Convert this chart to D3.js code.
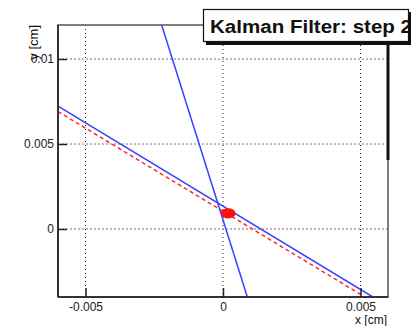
<!DOCTYPE html>
<html>
<head>
<meta charset="utf-8">
<script src="https://cdn.jsdelivr.net/npm/d3@7"></script>
<style>
  body { margin: 0; background: #fff; }
  svg { display: block; font-family: "Liberation Sans", Arial, sans-serif; }
</style>
</head>
<body>
<svg id="chart"></svg>
<script>
// chart values
const xTicks = [-0.005, 0, 0.005];
const yTicks = [0, 0.005, 0.01];
const xTickLabels = ['-0.005', '0', '0.005'];
const yTickLabels = ['0', '0.005', '0.01'];

// track lines: two end points each (x, y in cm)
const steepX = [-0.00223, 0.000884];
const steepY = [0.012, -0.004];
const shallowX = [-0.006, 0.00545];
const shallowY = [0.00723, -0.004];
const fitX = [-0.006, 0.00516];
const fitY = [0.00691, -0.004];

// hit position with its error ellipse
const hitX = [0.00019];
const hitY = [0.00092];
const hitRx = [0.00027];
const hitRy = [0.0003];

const w = 419, h = 326;
const padL = 58, padR = 388, padT = 25, padB = 297;

const svg = d3.select('#chart').attr('width', w).attr('height', h);

const x = d3.scaleLinear().domain([-0.006, 0.006]).range([padL, padR]);
const y = d3.scaleLinear().domain([-0.004, 0.012]).range([padB, padT]);

svg.append('clipPath').attr('id', 'clip')
  .append('rect').attr('x', padL).attr('y', padT)
  .attr('width', padR - padL).attr('height', padB - padT);

// grid
svg.selectAll('.vgrid').data(xTicks).enter().append('line')
  .attr('x1', d => x(d)).attr('x2', d => x(d))
  .attr('y1', padT).attr('y2', padB)
  .attr('stroke', '#222').attr('stroke-width', 1)
  .attr('stroke-dasharray', '1,3');
svg.selectAll('.hgrid').data(yTicks).enter().append('line')
  .attr('x1', padL).attr('x2', padR)
  .attr('y1', d => y(d)).attr('y2', d => y(d))
  .attr('stroke', '#777').attr('stroke-width', 1)
  .attr('stroke-dasharray', '2,2');

const plot = svg.append('g').attr('clip-path', 'url(#clip)');
const toPts = (xs, ys) => xs.map((v, i) => [x(v), y(ys[i])]);
const line = d3.line();

plot.append('path').attr('d', line(toPts(fitX, fitY)))
  .attr('fill', 'none').attr('stroke', '#ff2a2a').attr('stroke-width', 1.5)
  .attr('stroke-dasharray', '4,3');
plot.append('path').attr('d', line(toPts(shallowX, shallowY)))
  .attr('fill', 'none').attr('stroke', '#3344ff').attr('stroke-width', 1.5);
plot.append('path').attr('d', line(toPts(steepX, steepY)))
  .attr('fill', 'none').attr('stroke', '#3344ff').attr('stroke-width', 1.5);

plot.selectAll('.hit').data(hitX).enter().append('ellipse')
  .attr('cx', d => x(d)).attr('cy', (d, i) => y(hitY[i]))
  .attr('rx', (d, i) => x(hitRx[i]) - x(0))
  .attr('ry', (d, i) => y(0) - y(hitRy[i]))
  .attr('fill', '#ff1010');

// frame
svg.append('rect').attr('x', padL).attr('y', padT)
  .attr('width', padR - padL).attr('height', padB - padT)
  .attr('fill', 'none').attr('stroke', '#555').attr('stroke-width', 1.5);
svg.append('line').attr('x1', padL).attr('x2', padL).attr('y1', padT).attr('y2', padB)
  .attr('stroke', '#333').attr('stroke-width', 2);
svg.append('line').attr('x1', padL).attr('x2', padR).attr('y1', padB).attr('y2', padB)
  .attr('stroke', '#333').attr('stroke-width', 2);

// axes (ticks inside the frame)
const xAxis = d3.axisTop(x).tickValues(xTicks).tickSize(9)
  .tickFormat((d, i) => xTickLabels[i]);
const gx = svg.append('g').attr('transform', `translate(0,${padB})`).call(xAxis);
gx.select('.domain').remove();
gx.selectAll('line').attr('stroke', '#222').attr('stroke-width', 1.5);
gx.selectAll('text').attr('y', 5).attr('dy', '0.71em')
  .attr('font-size', 12).attr('fill', '#222');

const yAxis = d3.axisRight(y).tickValues(yTicks).tickSize(9)
  .tickFormat((d, i) => yTickLabels[i]);
const gy = svg.append('g').attr('transform', `translate(${padL},0)`).call(yAxis);
gy.select('.domain').remove();
gy.selectAll('line').attr('stroke', '#222').attr('stroke-width', 1.5);
gy.selectAll('text').attr('x', -4).attr('text-anchor', 'end')
  .attr('font-size', 12).attr('fill', '#222');

// axis titles
svg.append('text').attr('x', 387).attr('y', 324)
  .attr('text-anchor', 'end').attr('font-size', 12).attr('fill', '#111')
  .text('x [cm]');
svg.append('text').attr('transform', `translate(38,${padT}) rotate(-90)`)
  .attr('text-anchor', 'end').attr('font-size', 13).attr('fill', '#111')
  .text('y [cm]');

// thick bar on right edge
svg.append('line').attr('x1', padR).attr('x2', padR).attr('y1', 42).attr('y2', 160)
  .attr('stroke', '#111').attr('stroke-width', 3);

// title box with shadow
svg.append('rect').attr('x', 206).attr('y', 12).attr('width', 205).attr('height', 33)
  .attr('fill', '#111');
svg.append('rect').attr('x', 203.5).attr('y', 9.5).attr('width', 205).attr('height', 32)
  .attr('fill', '#fff').attr('stroke', '#111').attr('stroke-width', 1.2);
svg.append('clipPath').attr('id', 'tclip')
  .append('rect').attr('x', 204).attr('y', 10).attr('width', 204).attr('height', 31);
svg.append('text').attr('clip-path', 'url(#tclip)')
  .attr('x', 210).attr('y', 33).attr('font-size', 18).attr('font-weight', 'bold')
  .attr('fill', '#111').attr('textLength', 202).attr('lengthAdjust', 'spacingAndGlyphs')
  .text('Kalman Filter: step 2');
</script>
</body>
</html>
